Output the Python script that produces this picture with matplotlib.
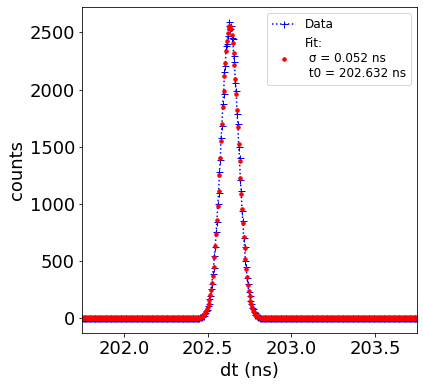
import numpy as np
import matplotlib
matplotlib.use('Agg')
import matplotlib.pyplot as plt

# griglia dei bin (ns)
t_start = 201.75
t_step = 0.005
n_bins = 401

# indice del primo bin non nullo
peak_start = 140

# conteggi misurati nella zona del picco (tutti gli altri bin sono zero)
peak_counts = [4, 9, 12, 13, 22, 25, 38, 44, 66, 76,
               108, 124, 170, 198, 260, 300, 385, 440, 548, 620,
               752, 842, 1000, 1098, 1280, 1385, 1580, 1680, 1875, 1960,
               2150, 2210, 2380, 2400, 2470, 2560, 2590, 2530, 2560, 2450,
               2440, 2290, 2240, 2060, 1990, 1790, 1700, 1500, 1400, 1210,
               1110, 940, 850, 700, 625, 505, 445, 350, 305, 232,
               200, 150, 128, 92, 80, 55, 47, 31, 27, 17,
               15, 9, 8, 4, 5]

# valori del fit gaussiano nella stessa zona
peak_fit = [5.6, 7.8, 10.8, 14.7, 20, 26.8, 35.7, 47.1, 61.5, 79.6,
            102, 130, 163, 204, 252, 308, 374, 449, 535, 631,
            739, 856, 981, 1116, 1257, 1404, 1553, 1702, 1848, 1987,
            2119, 2237, 2341, 2427, 2493, 2537, 2558, 2556, 2530, 2481,
            2411, 2321, 2214, 2093, 1960, 1818, 1672, 1523, 1374, 1229,
            1089, 956, 831, 716, 612, 517, 433, 360, 296, 241,
            195, 156, 124, 97, 76, 58, 45, 34, 25, 19,
            14, 10, 7, 5, 4]

sigma = 0.052
t0 = 202.632

t = t_start + t_step * np.arange(n_bins)
counts = np.zeros(n_bins)
counts[peak_start:peak_start + len(peak_counts)] = peak_counts
fit = np.zeros(n_bins)
fit[peak_start:peak_start + len(peak_fit)] = peak_fit

fig = plt.figure(figsize=(423 / 72, 387 / 72), dpi=72)
ax = fig.add_axes([0.194, 0.139, 0.792, 0.842])
ax.plot(t, counts, 'b:', marker='+', markersize=7, label='Data')
ax.plot(t, fit, 'r.', markersize=7,
        label='Fit:\n σ = %.3f ns\n t0 = %.3f ns' % (sigma, t0))
ax.set_xlim(201.75, 203.75)
ax.set_xticks([202.0, 202.5, 203.0, 203.5])
ax.set_xlabel('dt (ns)', fontsize=18)
ax.set_ylabel('counts', fontsize=18)
ax.tick_params(labelsize=18)
ax.legend(loc='upper right', fontsize=12)
fig.savefig('out.png', dpi=72)
